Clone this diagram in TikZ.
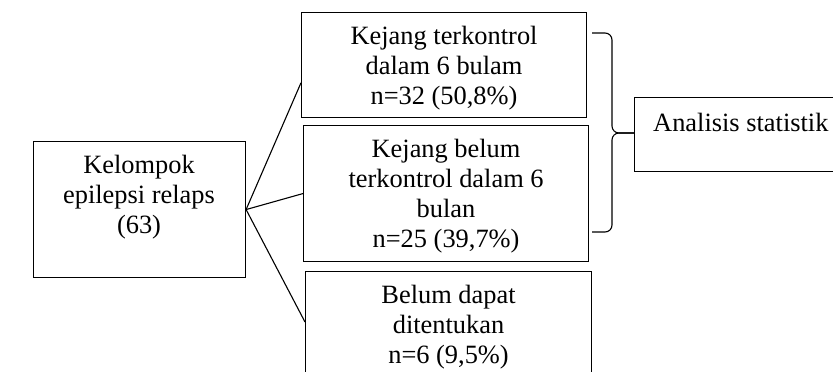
\documentclass[tikz,border=0pt]{standalone}
\usepackage{fontspec}
\setmainfont{Liberation Serif}
\usetikzlibrary{calc}
\begin{document}
\begin{tikzpicture}[x=1pt,y=-1pt,
  box/.style={draw,line width=1.1pt,inner sep=0pt,anchor=north west},
  txt/.style={align=center,font=\fontsize{26.4}{30}\selectfont,inner sep=0pt},
  conn/.style={line width=1.1pt}]
\useasboundingbox (0,0) rectangle (833,372);
\clip (0,0) rectangle (833,372);
% boxes
\node[box,minimum width=212pt,minimum height=136pt] (src) at (33,141) {};
\node[txt] (srct) at (139,197) {Kelompok\\epilepsi relaps\\(63)};
\node[box,minimum width=285pt,minimum height=105pt] (b1) at (301,12) {};
\node[txt] at (b1.center) [yshift=-3pt] {Kejang terkontrol\\dalam 6 bulam\\n=32 (50,8\%)};
\node[box,minimum width=285pt,minimum height=136pt] (b2) at (303,125) {};
\node[txt] at (b2.center) [yshift=-3pt] {Kejang belum\\terkontrol dalam 6\\bulan\\n=25 (39,7\%)};
\node[box,minimum width=286pt,minimum height=112pt] (b3) at (305,271) {};
\node[txt] at (b3.center) {Belum dapat\\ditentukan\\n=6 (9,5\%)};
\node[box,minimum width=210pt,minimum height=74pt] (an) at (634,97) {};
\node[txt,anchor=west] (ant) at (653,122) {Analisis statistik};
% connectors
\coordinate (s) at (src.east);
\draw[conn] (s) -- ($(b1.north west)!0.667!(b1.south west)$);
\draw[conn] (s) -- (b2.west);
\draw[conn] (s) -- ($(b3.north west)+(0,51)$);
% brace
\coordinate (bt) at (592,33);
\coordinate (bb) at (592,232);
\coordinate (tip) at (612,133);
\draw[conn,rounded corners=7pt] (bt) -- (612,33) -- (tip) -- (an.west |- tip);
\draw[conn,rounded corners=7pt] (bb) -- (612,232) -- (tip) -- (an.west |- tip);
\end{tikzpicture}
\end{document}
